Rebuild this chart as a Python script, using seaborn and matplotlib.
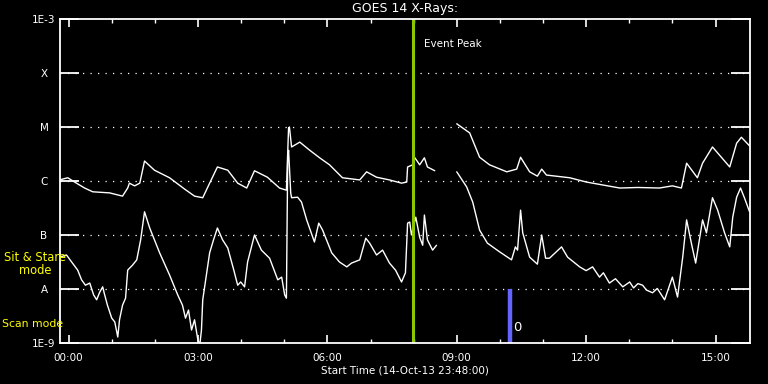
import numpy as np
import pandas as pd
import matplotlib
matplotlib.use("Agg")
import matplotlib.pyplot as plt
import seaborn as sns

# ---- data (hours after 00:00, log10 flux W/m^2) ----
long_t1 = [-0.21, -0.02, 0.14, 0.37, 0.56, 0.95, 1.25, 1.37, 1.41, 1.53, 1.65, 1.76, 1.99, 2.34, 2.69, 2.92,
           3.11, 3.27, 3.45, 3.69, 3.92, 4.13, 4.31, 4.61, 4.89, 5.05, 5.10, 5.12, 5.17, 5.36, 5.59, 5.82,
           6.05, 6.35, 6.75, 6.91, 7.14, 7.44, 7.72, 7.84, 7.86, 7.98, 8.02, 8.14, 8.25, 8.32, 8.49]
long_l1 = [-5.98, -5.94, -6.02, -6.13, -6.20, -6.22, -6.28, -6.13, -6.04, -6.09, -6.04, -5.63, -5.80, -5.94, -6.15, -6.28,
           -6.31, -6.04, -5.74, -5.80, -6.04, -6.13, -5.81, -5.93, -6.13, -6.17, -5.02, -5.00, -5.37, -5.28, -5.43, -5.57,
           -5.70, -5.94, -5.98, -5.83, -5.93, -5.98, -6.04, -6.02, -5.74, -5.70, -5.56, -5.70, -5.57, -5.74, -5.81]
long_t2 = [9.00, 9.30, 9.53, 9.76, 10.16, 10.39, 10.48, 10.69, 10.87, 10.97, 11.08, 11.62, 12.01, 12.78, 13.20,
           13.70, 14.00, 14.21, 14.33, 14.58, 14.70, 14.93, 15.33, 15.49, 15.60, 15.79]
long_l2 = [-4.94, -5.11, -5.56, -5.70, -5.83, -5.78, -5.56, -5.83, -5.91, -5.78, -5.89, -5.94, -6.02, -6.13, -6.12,
           -6.13, -6.09, -6.13, -5.67, -5.94, -5.67, -5.37, -5.74, -5.30, -5.19, -5.35]

short_t1 = [-0.21, -0.05, 0.07, 0.21, 0.30, 0.39, 0.49, 0.58, 0.65, 0.72, 0.79, 0.83, 0.90, 1.00, 1.07, 1.14,
            1.18, 1.25, 1.32, 1.37, 1.48, 1.58, 1.67, 1.76, 1.88, 2.11, 2.34, 2.53, 2.64, 2.71, 2.78, 2.85,
            2.92, 2.99, 3.04, 3.08, 3.11, 3.27, 3.36, 3.45, 3.57, 3.69, 3.83, 3.92, 3.99, 4.08, 4.15, 4.31,
            4.47, 4.66, 4.85, 4.94, 5.01, 5.05, 5.08, 5.10, 5.15, 5.17, 5.31, 5.40, 5.52, 5.70, 5.80, 5.89,
            6.10, 6.28, 6.45, 6.56, 6.75, 6.89, 6.98, 7.14, 7.28, 7.44, 7.58, 7.72, 7.81, 7.86, 7.91, 7.95,
            8.05, 8.14, 8.21, 8.25, 8.32, 8.44, 8.53]
short_l1 = [-7.41, -7.37, -7.50, -7.65, -7.83, -7.93, -7.89, -8.11, -8.20, -8.06, -7.96, -8.09, -8.30, -8.54, -8.61, -8.89,
            -8.57, -8.30, -8.17, -7.65, -7.56, -7.46, -7.09, -6.57, -6.87, -7.33, -7.74, -8.11, -8.30, -8.54, -8.39, -8.76,
            -8.57, -8.91, -9.05, -8.76, -8.20, -7.33, -7.09, -6.87, -7.09, -7.24, -7.65, -7.93, -7.87, -7.96, -7.50, -7.00,
            -7.28, -7.43, -7.83, -7.78, -8.11, -8.17, -5.61, -5.43, -6.22, -6.31, -6.30, -6.39, -6.72, -7.13, -6.78, -6.91,
            -7.33, -7.50, -7.59, -7.52, -7.46, -7.06, -7.15, -7.37, -7.28, -7.52, -7.65, -7.87, -7.70, -6.78, -6.76, -7.00,
            -6.67, -7.04, -7.19, -6.63, -7.09, -7.28, -7.19]
short_t2 = [9.00, 9.23, 9.37, 9.53, 9.71, 9.99, 10.27, 10.36, 10.41, 10.48, 10.53, 10.69, 10.87, 10.97, 11.06, 11.15,
            11.43, 11.57, 11.85, 12.00, 12.15, 12.31, 12.40, 12.54, 12.68, 12.85, 13.01, 13.10, 13.20, 13.31, 13.40,
            13.54, 13.65, 13.82, 14.00, 14.12, 14.24, 14.33, 14.44, 14.54, 14.70, 14.79, 14.93, 15.05, 15.21, 15.33,
            15.40, 15.49, 15.58, 15.67, 15.79]
short_l2 = [-5.83, -6.11, -6.39, -6.91, -7.15, -7.31, -7.46, -7.22, -7.28, -6.54, -6.96, -7.41, -7.54, -7.00, -7.43, -7.43,
            -7.22, -7.41, -7.59, -7.66, -7.59, -7.78, -7.70, -7.89, -7.81, -7.96, -7.87, -7.98, -7.90, -7.93, -8.02,
            -8.07, -7.99, -8.20, -7.78, -8.15, -7.41, -6.72, -7.15, -7.52, -6.72, -6.96, -6.31, -6.54, -6.96, -7.22,
            -6.67, -6.30, -6.13, -6.31, -6.57]

event_peak_h = 7.98
scan_bar_h = 10.24
x_ticks = [0, 3, 6, 9, 12, 15]
x_tick_labels = ["00:00", "03:00", "06:00", "09:00", "12:00", "15:00"]
y_ticks = [1e-9, 1e-8, 1e-7, 1e-6, 1e-5, 1e-4, 1e-3]
y_tick_labels = ["1E-9", "A", "B", "C", "M", "X", "1E-3"]

frames = []
for name, t, l in [("L1", long_t1, long_l1), ("L2", long_t2, long_l2),
                   ("S1", short_t1, short_l1), ("S2", short_t2, short_l2)]:
    frames.append(pd.DataFrame({"t": t, "flux": 10.0 ** np.array(l), "seg": name}))
df = pd.concat(frames, ignore_index=True)

sns.set_style("dark")
plt.rcParams["font.family"] = ["DejaVu Sans"]
fig = plt.figure(figsize=(7.68, 3.84), dpi=100, facecolor="black")
ax = fig.add_axes([60 / 768, 1 - 343 / 384, 690 / 768, 324 / 384])
ax.set_facecolor("black")

sns.lineplot(data=df, x="t", y="flux", units="seg", estimator=None, color="white",
             lw=1.0, ax=ax, legend=False)

ax.set_yscale("log")
ax.set_xlim(-0.2, 15.8)
ax.set_ylim(1e-9, 1e-3)

for v in y_ticks[1:-1]:
    ax.axhline(v, color="white", lw=0.9, ls=(0, (1, 5)))
ax.set_yticks(y_ticks)
ax.set_yticklabels(y_tick_labels)
ax.yaxis.set_minor_locator(matplotlib.ticker.NullLocator())
ax.tick_params(axis="y", which="major", direction="in", length=14, width=1.3, colors="white",
               left=True, right=True, labelsize=7.5, pad=11.5)
for lab in ax.get_yticklabels():
    lab.set_horizontalalignment("center")

ax.set_xticks(x_ticks)
ax.set_xticklabels(x_tick_labels)
ax.set_xticks(range(0, 16), minor=True)
ax.tick_params(axis="x", which="major", direction="in", length=6, width=1.2, colors="white",
               top=True, bottom=True, labelsize=7.5, pad=7)
ax.tick_params(axis="x", which="minor", direction="in", length=3, width=1.0, colors="white",
               top=True, bottom=True)
ax.grid(False)
for s in ax.spines.values():
    s.set_color("white")
    s.set_linewidth(1.3)
    s.set_visible(True)

ax.axvline(event_peak_h, color="#8cc800", lw=2.2)
ax.text(event_peak_h + 0.25, 3.5e-4, "Event Peak", color="white", fontsize=7.5, va="center", ha="left")
ax.vlines(scan_bar_h, 1e-9, 1e-8, color="#6464ff", lw=3.2)
ax.text(scan_bar_h + 0.06, 1.9e-9, "0", color="white", fontsize=9.5, va="center", ha="left")

ax.set_xlabel("Start Time (14-Oct-13 23:48:00)", color="white", fontsize=7.5, labelpad=2)
ax.set_ylabel("")
ax.set_title("GOES 14 X-Rays:", color="white", fontsize=9, pad=5)

fig.text(35 / 768, 1 - 264 / 384, "Sit & Stare\nmode", color="yellow", fontsize=8.3,
         ha="center", va="center", linespacing=1.05)
fig.text(2 / 768, 1 - 324 / 384, "Scan mode", color="yellow", fontsize=7.8, ha="left", va="center")

fig.savefig("out.png", dpi=100, facecolor="black")
